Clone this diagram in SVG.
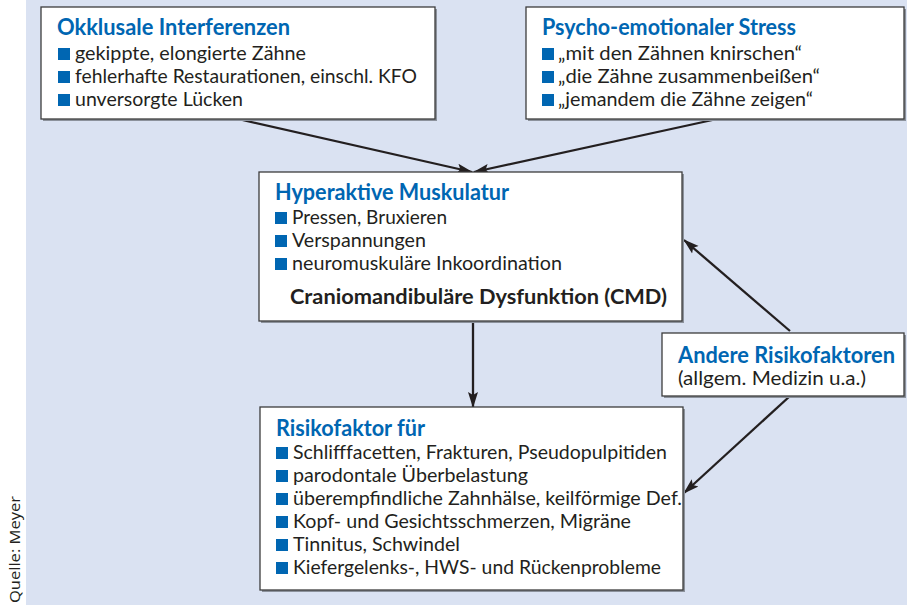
<svg xmlns="http://www.w3.org/2000/svg" width="907" height="605" viewBox="0 0 907 605">
<defs>
<style>
.bg{fill:#dae2f2}
.box{fill:#ffffff;stroke:#3c3c3c;stroke-width:1.3}
.sh{fill:#8c929c}
.t{font-family:Lato,"Open Sans","Liberation Sans",sans-serif;font-weight:bold;font-size:22px;fill:#0066b2}
.b{font-family:Lato,"Open Sans","Liberation Sans",sans-serif;font-size:19px;fill:#231f20}
.cmd{font-family:Lato,"Open Sans","Liberation Sans",sans-serif;font-weight:bold;font-size:21px;fill:#231f20}
.sq{fill:#0066b2}
.src{font-family:"Open Sans","Liberation Sans",sans-serif;font-size:14px;fill:#231f20}
.ln{stroke:#231f20;stroke-width:2.3;fill:none;marker-end:url(#ah)}
</style>
<marker id="ah" markerUnits="userSpaceOnUse" markerWidth="16" markerHeight="12" viewBox="0 0 16 12" refX="15" refY="6" orient="auto">
<path d="M0,1 L16,6 L0,11 L3,6 Z" fill="#231f20"/>
</marker>
</defs>
<rect class="bg" x="26" y="0" width="881" height="605"/>
<text class="src" transform="translate(20,603) rotate(-90)" textLength="107" lengthAdjust="spacingAndGlyphs">Quelle: Meyer</text>

<g id="connectors">
<line class="ln" x1="238" y1="119" x2="472" y2="172"/>
<line class="ln" x1="717" y1="119" x2="474" y2="172"/>
<line class="ln" x1="473" y1="321" x2="473" y2="407"/>
<line class="ln" x1="790" y1="331" x2="684" y2="240"/>
<line class="ln" x1="790" y1="396" x2="684" y2="493"/>
</g>

<g id="okklusale">
<rect class="sh" x="43" y="9" width="394" height="112"/>
<rect class="box" x="41" y="7" width="394" height="112"/>
<text class="t" x="57" y="35" textLength="233" lengthAdjust="spacingAndGlyphs">Okklusale Interferenzen</text>
<rect class="sq" x="58" y="48" width="12" height="12"/>
<text class="b" x="75" y="60" textLength="231" lengthAdjust="spacingAndGlyphs">gekippte, elongierte Zähne</text>
<rect class="sq" x="58" y="71" width="12" height="12"/>
<text class="b" x="75" y="83" textLength="342" lengthAdjust="spacingAndGlyphs">fehlerhafte Restaurationen, einschl. KFO</text>
<rect class="sq" x="58" y="94" width="12" height="12"/>
<text class="b" x="75" y="106" textLength="168" lengthAdjust="spacingAndGlyphs">unversorgte Lücken</text>
</g>

<g id="psycho">
<rect class="sh" x="528" y="9" width="378" height="112"/>
<rect class="box" x="526" y="7" width="378" height="112"/>
<text class="t" x="542" y="35" textLength="254" lengthAdjust="spacingAndGlyphs">Psycho-emotionaler Stress</text>
<rect class="sq" x="542" y="48" width="12" height="12"/>
<text class="b" x="558" y="60" textLength="244" lengthAdjust="spacingAndGlyphs">„mit den Zähnen knirschen“</text>
<rect class="sq" x="542" y="71" width="12" height="12"/>
<text class="b" x="558" y="83" textLength="262" lengthAdjust="spacingAndGlyphs">„die Zähne zusammenbeißen“</text>
<rect class="sq" x="542" y="94" width="12" height="12"/>
<text class="b" x="558" y="106" textLength="255" lengthAdjust="spacingAndGlyphs">„jemandem die Zähne zeigen“</text>
</g>

<g id="hyperaktiv">
<rect class="sh" x="261" y="174" width="423" height="149"/>
<rect class="box" x="259" y="172" width="423" height="149"/>
<text class="t" x="275" y="200" textLength="234" lengthAdjust="spacingAndGlyphs">Hyperaktive Muskulatur</text>
<rect class="sq" x="275" y="212" width="12" height="12"/>
<text class="b" x="292" y="224" textLength="155" lengthAdjust="spacingAndGlyphs">Pressen, Bruxieren</text>
<rect class="sq" x="275" y="235" width="12" height="12"/>
<text class="b" x="292" y="247" textLength="134" lengthAdjust="spacingAndGlyphs">Verspannungen</text>
<rect class="sq" x="275" y="258" width="12" height="12"/>
<text class="b" x="292" y="270" textLength="270" lengthAdjust="spacingAndGlyphs">neuromuskuläre Inkoordination</text>
<text class="cmd" x="290" y="304" textLength="377" lengthAdjust="spacingAndGlyphs">Craniomandibuläre Dysfunktion (CMD)</text>
</g>

<g id="andere">
<rect class="sh" x="664" y="335" width="242" height="63"/>
<rect class="box" x="662" y="333" width="242" height="63"/>
<text class="t" x="678" y="363" textLength="217" lengthAdjust="spacingAndGlyphs">Andere Risikofaktoren</text>
<text class="b" x="678" y="385" textLength="188" lengthAdjust="spacingAndGlyphs">(allgem. Medizin u.a.)</text>
</g>

<g id="risikofaktor">
<rect class="sh" x="262" y="409" width="423" height="183"/>
<rect class="box" x="260" y="407" width="423" height="183"/>
<text class="t" x="276" y="436" textLength="149" lengthAdjust="spacingAndGlyphs">Risikofaktor für</text>
<rect class="sq" x="276" y="447" width="12" height="12"/>
<text class="b" x="293" y="459" textLength="374" lengthAdjust="spacingAndGlyphs">Schlifffacetten, Frakturen, Pseudopulpitiden</text>
<rect class="sq" x="276" y="470" width="12" height="12"/>
<text class="b" x="293" y="482" textLength="235" lengthAdjust="spacingAndGlyphs">parodontale Überbelastung</text>
<rect class="sq" x="276" y="493" width="12" height="12"/>
<text class="b" x="293" y="505" textLength="389" lengthAdjust="spacingAndGlyphs">überempfindliche Zahnhälse, keilförmige Def.</text>
<rect class="sq" x="276" y="516" width="12" height="12"/>
<text class="b" x="293" y="528" textLength="338" lengthAdjust="spacingAndGlyphs">Kopf- und Gesichtsschmerzen, Migräne</text>
<rect class="sq" x="276" y="539" width="12" height="12"/>
<text class="b" x="293" y="551" textLength="167" lengthAdjust="spacingAndGlyphs">Tinnitus, Schwindel</text>
<rect class="sq" x="276" y="562" width="12" height="12"/>
<text class="b" x="293" y="574" textLength="368" lengthAdjust="spacingAndGlyphs">Kiefergelenks-, HWS- und Rückenprobleme</text>
</g>
</svg>
